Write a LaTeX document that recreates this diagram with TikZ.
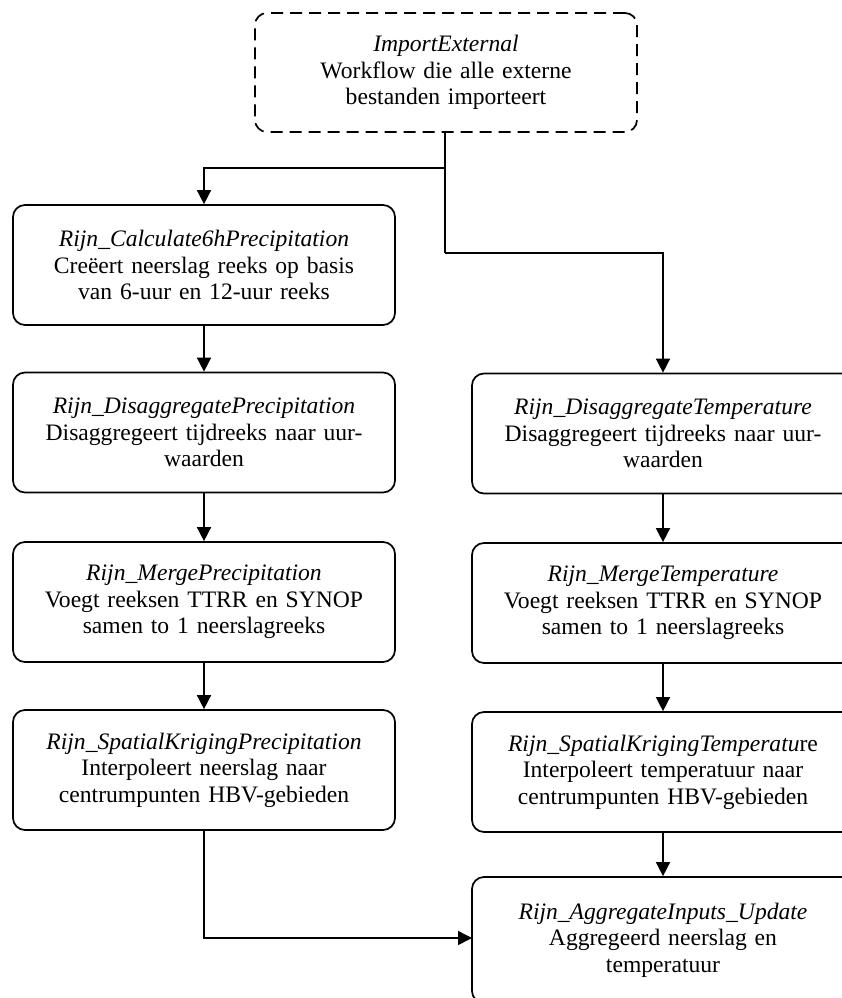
\documentclass[tikz,border=0pt]{standalone}
\usepackage{fontspec}
\setmainfont{Liberation Serif}
\usetikzlibrary{arrows.meta}

\tikzset{
  box/.style={draw, line width=1.7pt, rounded corners=12pt,
    minimum width=382pt, minimum height=120pt, inner sep=0pt,
    text width=376pt, align=center,
    font=\fontsize{23.6}{26.5}\selectfont},
  dashbox/.style={box, dash pattern=on 12pt off 7pt},
  conn/.style={line width=1.5pt},
  arr/.style={conn, -{Triangle[length=14pt,width=14pt]}}
}

\begin{document}
\begin{tikzpicture}[x=1pt,y=-1pt]
  \useasboundingbox (0,0) rectangle (842,998);
  \clip (0,0) rectangle (842,998);

  % start of the chain
  \node[dashbox, minimum height=119pt] (imp) at (446,72.5)
    {\textit{ImportExternal}\\Workflow die alle externe\\bestanden importeert};

  % precipitation column
  \node[box] (calc) at (204,265)
    {\textit{Rijn\_Calculate6hPrecipitation}\\Creëert neerslag reeks op basis\\van 6-uur en 12-uur reeks};
  \node[box] (ldis) at (204,432.5)
    {\textit{Rijn\_DisaggregatePrecipitation}\\Disaggregeert tijdreeks naar uur-\\waarden};
  \node[box] (lmerge) at (204,602)
    {\textit{Rijn\_MergePrecipitation}\\Voegt reeksen TTRR en SYNOP\\samen to 1 neerslagreeks};
  \node[box] (lspat) at (204,770)
    {\textit{Rijn\_SpatialKrigingPrecipitation}\\Interpoleert neerslag naar\\centrumpunten HBV-gebieden};

  % temperature column
  \node[box] (rdis) at (663,433.5)
    {\textit{Rijn\_DisaggregateTemperature}\\Disaggregeert tijdreeks naar uur-\\waarden};
  \node[box] (rmerge) at (663,603)
    {\textit{Rijn\_MergeTemperature}\\Voegt reeksen TTRR en SYNOP\\samen to 1 neerslagreeks};
  \node[box] (rspat) at (663,772)
    {\textit{Rijn\_SpatialKrigingTemperatu}re\\Interpoleert temperatuur naar\\centrumpunten HBV-gebieden};
  \node[box, minimum height=126pt] (agg) at (663,940)
    {\textit{Rijn\_AggregateInputs\_Update}\\Aggregeerd neerslag en\\temperatuur\\[6pt]};

  % branch points below the import step
  \coordinate (jl) at (445,168);
  \coordinate (jr) at (445,253);

  \draw[conn] (imp.south -| jl) -- (jr);
  \draw[arr] (jl) -| (calc.north);
  \draw[arr] (jr) -| (rdis.north);

  \draw[arr] (calc) -- (ldis);
  \draw[arr] (ldis) -- (lmerge);
  \draw[arr] (lmerge) -- (lspat);

  \draw[arr] (rdis) -- (rmerge);
  \draw[arr] (rmerge) -- (rspat);
  \draw[arr] (rspat) -- (agg);

  \coordinate (aggin) at (472,938);
  \draw[arr] (lspat.south) |- (aggin);
\end{tikzpicture}
\end{document}
